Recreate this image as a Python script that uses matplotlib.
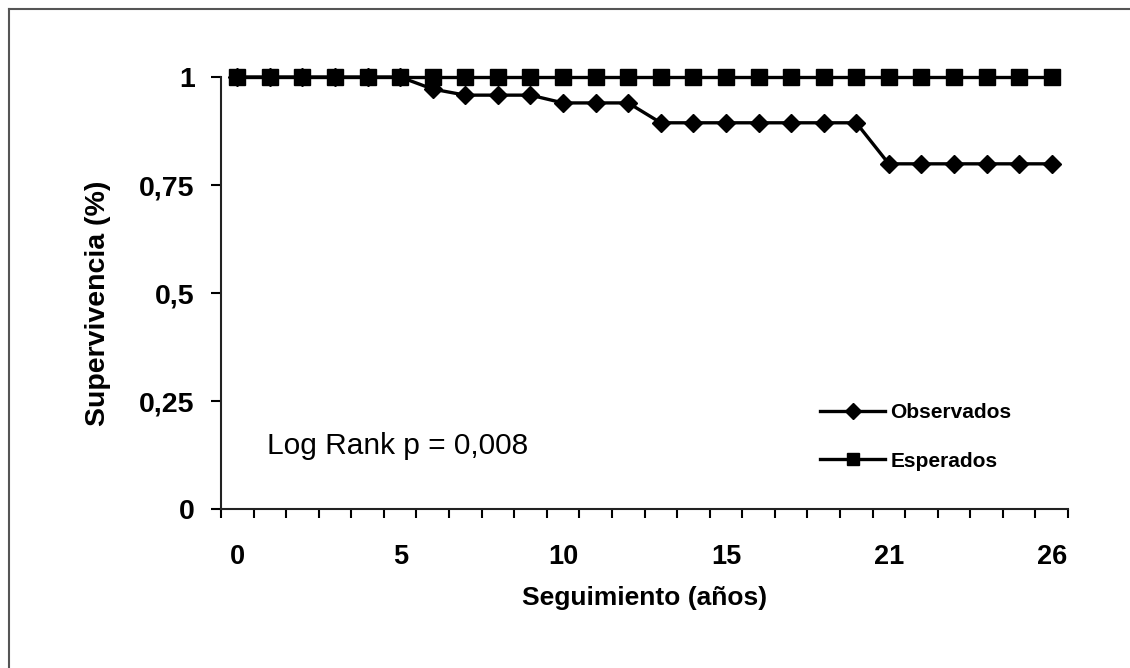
import matplotlib.pyplot as plt
from matplotlib.lines import Line2D

plt.rcParams['font.family'] = ['Liberation Sans', 'DejaVu Sans']

# follow-up years (one category per annual check-up)
years = [0, 1, 2, 3, 4, 5, 6, 7, 8, 9, 10, 11, 12, 13, 14, 15,
         17, 18, 19, 20, 21, 22, 23, 24, 25, 26]
observados = [1, 1, 1, 1, 1, 1, 0.972, 0.958, 0.958, 0.958, 0.94, 0.94, 0.94,
              0.894, 0.894, 0.894, 0.894, 0.894, 0.894, 0.894,
              0.799, 0.799, 0.799, 0.799, 0.799, 0.799]
esperados = [1] * 26
y_ticks = [0, 0.25, 0.5, 0.75, 1]
y_tick_labels = ['0', '0,25', '0,5', '0,75', '1']

W, H = 1130, 668
fig = plt.figure(figsize=(W / 100, H / 100), dpi=100)
ax = fig.add_axes([221 / W, 1 - 509 / H, (1068 - 221) / W, (509 - 77) / H])

pos = list(range(len(years)))
ax.plot(pos, observados, color='black', lw=2.4, marker='D', ms=9.5,
        label='Observados', clip_on=False, zorder=3)
ax.plot(pos, esperados, color='black', lw=2.4, marker='s', ms=11,
        label='Esperados', clip_on=False, zorder=3)

ax.set_xlim(-0.5, len(years) - 0.5)
ax.set_ylim(0, 1)

# category labels every fifth check-up, tick marks between categories
ax.set_xticks(pos[::5])
ax.set_xticklabels([str(years[i]) for i in pos[::5]], fontsize=19.5, fontweight='bold')
ax.set_xticks([p - 0.5 for p in pos] + [len(years) - 0.5], minor=True)
ax.tick_params(axis='x', which='major', length=0, pad=25)
ax.tick_params(axis='x', which='minor', length=6.5, width=1.5, direction='out')

ax.set_yticks(y_ticks)
ax.set_yticklabels(y_tick_labels, fontsize=20.5, fontweight='bold')
ax.tick_params(axis='y', length=7, width=1.5, pad=12)

for side in ['top', 'right']:
    ax.spines[side].set_visible(False)
for side in ['left', 'bottom']:
    ax.spines[side].set_linewidth(1.5)
    ax.spines[side].set_color('#222222')

ax.set_xlabel('Seguimiento (años)', fontsize=19, fontweight='bold', labelpad=12)
ax.set_ylabel('Supervivencia (%)', fontsize=20.5, fontweight='bold')
ax.yaxis.set_label_coords(-110 / 847, (509 - 303) / 432)

ax.text(46 / 847, (509 - 446) / 432, 'Log Rank p = 0,008', transform=ax.transAxes,
        fontsize=21.5, va='center', ha='left')

leg = ax.legend(loc='upper left', bbox_to_anchor=(589 / 847, (509 - 393) / 432),
                frameon=False, handlelength=3.1, handletextpad=0.25,
                labelspacing=1.4, markerscale=0.85, borderpad=0,
                prop={'family': ['Liberation Sans'], 'weight': 'bold', 'size': 15})

# outer frame around the figure
fig.add_artist(Line2D([9 / W, 1.0], [1 - 9 / H, 1 - 9 / H], transform=fig.transFigure,
                      color='#555555', lw=1.5))
fig.add_artist(Line2D([9 / W, 9 / W], [0, 1 - 9 / H], transform=fig.transFigure,
                      color='#555555', lw=1.5))

fig.savefig('out.png', dpi=100)
